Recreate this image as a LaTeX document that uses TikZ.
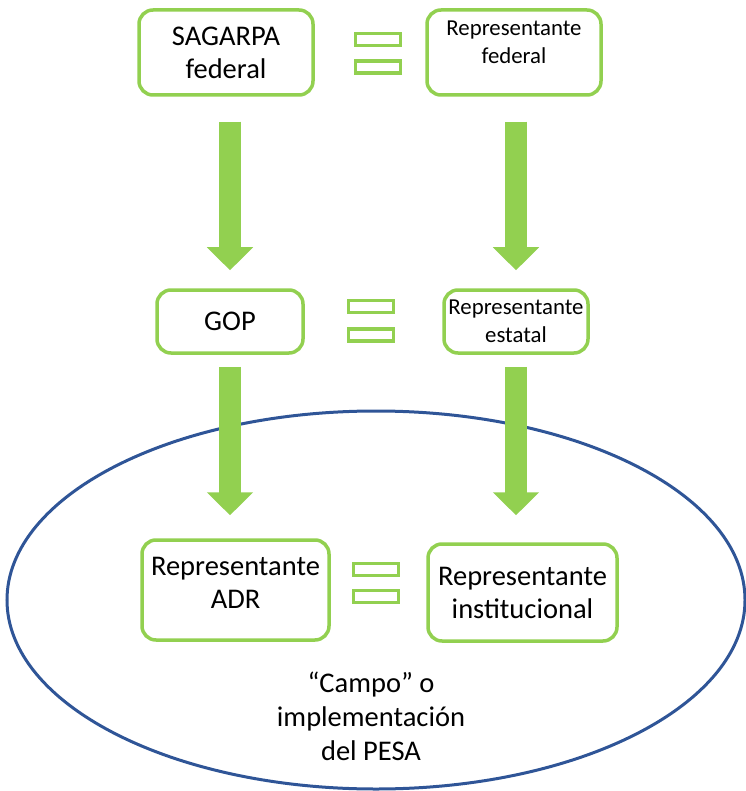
\documentclass[tikz,border=0pt]{standalone}
\usepackage{fontspec}
\setmainfont{Carlito}
\usetikzlibrary{arrows.meta,shapes.geometric}
\definecolor{boxgreen}{RGB}{146,208,80}
\definecolor{ovalblue}{RGB}{47,85,151}
\begin{document}
\begin{tikzpicture}[x=1pt, y=-1pt,
  box/.style={draw=boxgreen, line width=3.5pt, rounded corners=14pt, fill=white, align=center, inner sep=0pt},
  bigtxt/.style={font=\fontsize{28.5}{33}\selectfont},
  smalltxt/.style={font=\fontsize{22.8}{28}\selectfont},
  eqbar/.style={draw=boxgreen, line width=3.5pt, minimum width=45pt, minimum height=12pt, inner sep=0pt},
  fatarrow/.style={draw=boxgreen, line width=22pt, -{Triangle[width=45pt,length=23pt]}}]
\useasboundingbox (0,0) rectangle (745,791);
% field oval
\node[ellipse, draw=ovalblue, line width=3pt, minimum width=738pt, minimum height=378pt, inner sep=0pt] (campo) at (376,600){};
\node[bigtxt, align=center, font=\fontsize{28.5}{34}\selectfont] (campotxt) at (371,716){``Campo'' o\\implementación\\del PESA};
% federal level
\node[box, bigtxt, minimum width=174pt, minimum height=85pt] (sag) at (226,52.5){SAGARPA\\federal};
\node[box, smalltxt, minimum width=174pt, minimum height=85pt, text depth=21pt] (fed) at (514,52.5){Representante\\federal};
\node[eqbar] (eq1a) at (378,39.5){};
\node[eqbar] (eq1b) at (378,67){};
% state level
\node[box, bigtxt, minimum width=146pt, minimum height=63pt] (gop) at (230,321.5){GOP};
\node[box, smalltxt, minimum width=144pt, minimum height=63pt] (est) at (516,321.5){Representante\\estatal};
\node[eqbar] (eq2a) at (371,306.5){};
\node[eqbar] (eq2b) at (371,335){};
% field level
\node[box, bigtxt, minimum width=187pt, minimum height=100pt, text depth=15pt] (adr) at (235.5,590){Representante\\ADR};
\node[box, bigtxt, minimum width=189pt, minimum height=97pt] (inst) at (522.5,592.5){Representante\\institucional};
\node[eqbar] (eq3a) at (376,569.5){};
\node[eqbar] (eq3b) at (376,596.5){};
% arrows
\draw[fatarrow, shorten <=25pt, shorten >=18pt] (sag.south -| gop) -- (gop.north);
\draw[fatarrow, shorten <=25pt, shorten >=18pt] (fed.south -| est) -- (est.north);
\draw[fatarrow, shorten <=12pt, shorten >=23pt] (gop.south) -- (gop.south |- adr.north);
\draw[fatarrow, shorten <=12pt, shorten >=27pt] (est.south) -- (est.south |- inst.north);
\end{tikzpicture}
\end{document}
